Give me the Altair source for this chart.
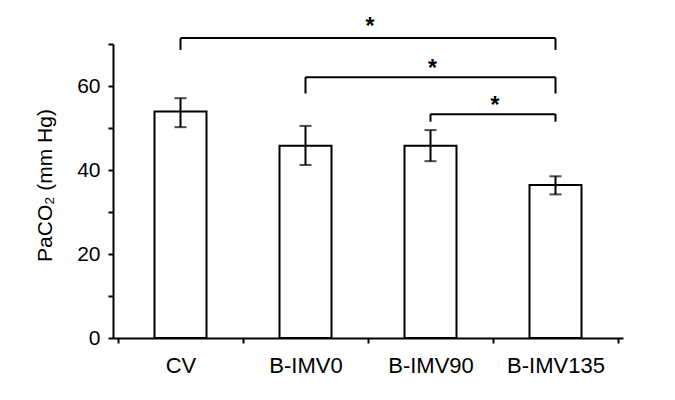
import altair as alt
import pandas as pd

categories = ["CV", "B-IMV0", "B-IMV90", "B-IMV135"]
means = [53.9, 45.8, 45.8, 36.4]
err_low = [50.2, 41.2, 42.1, 34.2]
err_high = [57.1, 50.5, 49.5, 38.5]

bracket_from = ["CV", "B-IMV0", "B-IMV90"]
bracket_to = ["B-IMV135", "B-IMV135", "B-IMV135"]
bracket_top = [71.4, 62.1, 53.3]
bracket_end = [68.6, 58.2, 51.5]
star_y = [75.0, 65.0, 56.3]
star_text = ["*", "*", "*"]

FONT = "Liberation Sans"

bars_df = pd.DataFrame({
    "idx": list(range(len(categories))),
    "cat": categories,
    "mean": means,
    "lo": err_low,
    "hi": err_high,
})

br_df = pd.DataFrame({
    "x1": [categories.index(c) for c in bracket_from],
    "x2": [categories.index(c) for c in bracket_to],
    "top": bracket_top,
    "end": bracket_end,
    "sy": star_y,
    "star": star_text,
})
br_df["mid"] = (br_df["x1"] + br_df["x2"]) / 2
ends_df = pd.concat([
    br_df[["x1", "top", "end"]].rename(columns={"x1": "x"}),
    br_df[["x2", "top", "end"]].rename(columns={"x2": "x"}),
])

names_js = "[" + ",".join("'" + c + "'" for c in categories) + "]"
xvals = [i / 2 - 0.5 for i in range(2 * len(categories) + 1)]

xscale = alt.Scale(domain=[-0.5, len(categories) - 0.5], nice=False, zero=False)
yscale = alt.Scale(domain=[0, 70], nice=False)

xaxis = alt.Axis(
    values=xvals,
    labelExpr=f"datum.value % 1 == 0 ? {names_js}[datum.value] : ''",
    tickColor={"condition": {"test": "datum.value % 1 == 0", "value": "transparent"}, "value": "black"},
    tickSize=5, tickWidth=2, domainWidth=2, domainColor="black",
    labelFontSize=22, labelFont=FONT, labelColor="black", labelPadding=12,
    labelAngle=0, labelFlush=False, labelOverlap=False, labelBound=False,
    grid=False, title=None,
)
yaxis = alt.Axis(
    values=list(range(0, 71, 10)),
    labelExpr="datum.value % 20 == 0 ? datum.label : ''",
    tickSize=5, tickWidth=2, tickColor="black", domainWidth=2, domainColor="black",
    labelFontSize=21, labelFont=FONT, labelColor="black", labelPadding=8,
    grid=False, title="PaCO₂ (mm Hg)", titleFontSize=21, titleFont=FONT,
    titleFontWeight="normal", titleColor="#000000", titleX=-68, titleY=141,
    titleAngle=270, titleBaseline="middle", labelOverlap=False,
)

base = alt.Chart(bars_df)
bars = base.mark_bar(width=52, fill="white", stroke="black", strokeWidth=2).encode(
    x=alt.X("idx:Q", scale=xscale, axis=xaxis),
    y=alt.Y("mean:Q", scale=yscale, axis=yaxis),
)
err = base.mark_rule(color="black", strokeWidth=2).encode(
    x=alt.X("idx:Q", scale=xscale), y=alt.Y("lo:Q", scale=yscale), y2="hi:Q"
)
cap_lo = base.mark_tick(orient="horizontal", size=12, thickness=2, color="black").encode(
    x=alt.X("idx:Q", scale=xscale), y=alt.Y("lo:Q", scale=yscale)
)
cap_hi = base.mark_tick(orient="horizontal", size=12, thickness=2, color="black").encode(
    x=alt.X("idx:Q", scale=xscale), y=alt.Y("hi:Q", scale=yscale)
)
horiz = alt.Chart(br_df).mark_rule(color="black", strokeWidth=2).encode(
    x=alt.X("x1:Q", scale=xscale), x2="x2:Q", y=alt.Y("top:Q", scale=yscale)
)
vert = alt.Chart(ends_df).mark_rule(color="black", strokeWidth=2).encode(
    x=alt.X("x:Q", scale=xscale), y=alt.Y("top:Q", scale=yscale), y2="end:Q"
)
stars = alt.Chart(br_df).mark_text(fontSize=23, fontWeight="bold", font=FONT,
                                   baseline="middle", dy=4, dx=2, color="black").encode(
    x=alt.X("mid:Q", scale=xscale), y=alt.Y("sy:Q", scale=yscale), text="star:N"
)

chart = alt.layer(bars, err, cap_lo, cap_hi, horiz, vert, stars).properties(
    width=510, height=294,
    autosize=alt.AutoSizeParams(type="none"),
    padding={"left": 105, "top": 36, "right": 40, "bottom": 50},
    background="white",
).configure_view(stroke=None)

chart.save("out.html", embed_options={"renderer": "svg", "actions": False})
